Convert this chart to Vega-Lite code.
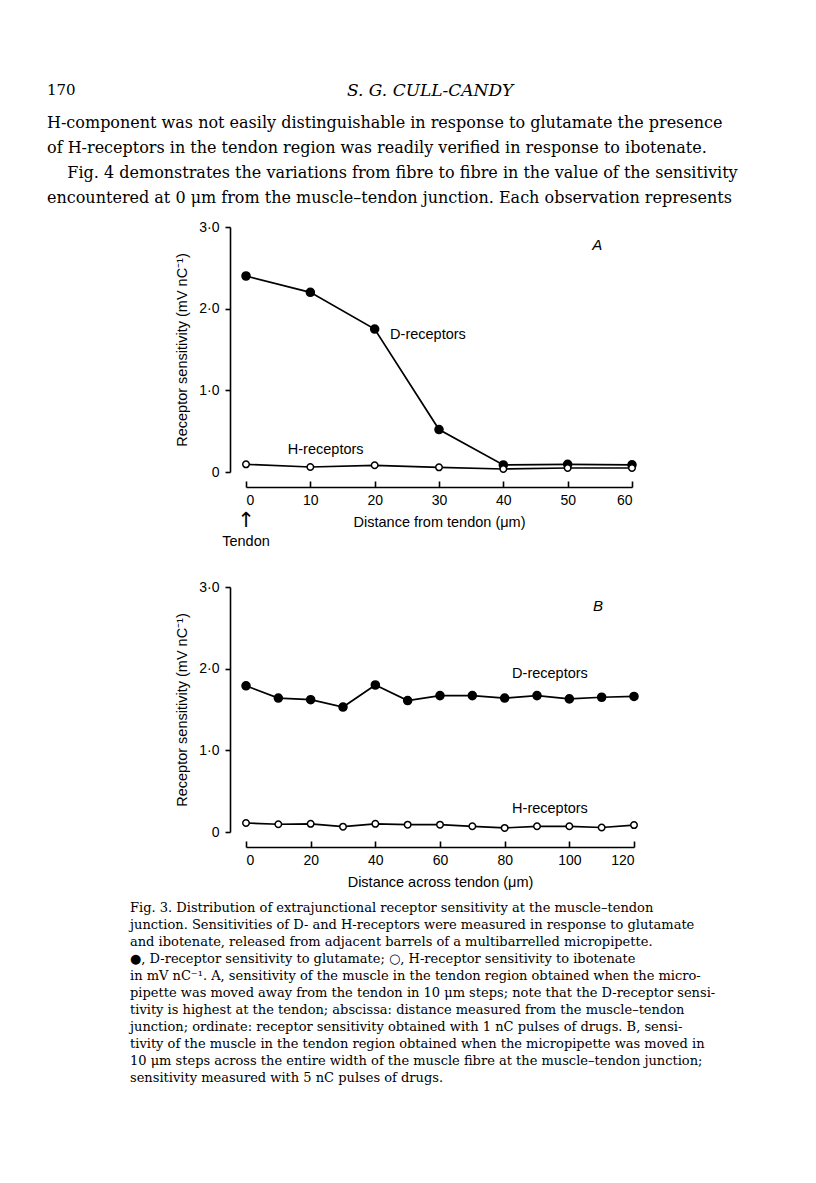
{
  "$schema": "https://vega.github.io/schema/vega-lite/v6.json",
  "background": "white",
  "padding": {"left": 47, "top": 82, "right": 10, "bottom": 10},
  "title": {"text": "S. G. CULL-CANDY", "font": "DejaVu Serif", "fontSize": 17, "fontStyle": "italic", "fontWeight": "normal", "anchor": "start", "frame": "group", "dx": 101, "offset": -17, "color": "black"},
  "bounds": "flush",
  "spacing": 115,
  "datasets": {
    "a": [
      {"x": 0, "y": 2.4, "series": "D"}, {"x": 10, "y": 2.2, "series": "D"}, {"x": 20, "y": 1.75, "series": "D"},
      {"x": 30, "y": 0.52, "series": "D"}, {"x": 40, "y": 0.086, "series": "D"}, {"x": 50, "y": 0.094, "series": "D"},
      {"x": 60, "y": 0.088, "series": "D"},
      {"x": 0, "y": 0.094, "series": "H"}, {"x": 10, "y": 0.061, "series": "H"}, {"x": 20, "y": 0.082, "series": "H"},
      {"x": 30, "y": 0.057, "series": "H"}, {"x": 40, "y": 0.037, "series": "H"}, {"x": 50, "y": 0.049, "series": "H"},
      {"x": 60, "y": 0.049, "series": "H"}
    ],
    "b": [
      {"x": 0, "y": 1.79, "series": "D"}, {"x": 10, "y": 1.64, "series": "D"}, {"x": 20, "y": 1.62, "series": "D"},
      {"x": 30, "y": 1.53, "series": "D"}, {"x": 40, "y": 1.8, "series": "D"}, {"x": 50, "y": 1.61, "series": "D"},
      {"x": 60, "y": 1.67, "series": "D"}, {"x": 70, "y": 1.67, "series": "D"}, {"x": 80, "y": 1.64, "series": "D"},
      {"x": 90, "y": 1.67, "series": "D"}, {"x": 100, "y": 1.63, "series": "D"}, {"x": 110, "y": 1.65, "series": "D"},
      {"x": 120, "y": 1.66, "series": "D"},
      {"x": 0, "y": 0.11, "series": "H"}, {"x": 10, "y": 0.095, "series": "H"}, {"x": 20, "y": 0.1, "series": "H"},
      {"x": 30, "y": 0.065, "series": "H"}, {"x": 40, "y": 0.1, "series": "H"}, {"x": 50, "y": 0.09, "series": "H"},
      {"x": 60, "y": 0.09, "series": "H"}, {"x": 70, "y": 0.07, "series": "H"}, {"x": 80, "y": 0.05, "series": "H"},
      {"x": 90, "y": 0.07, "series": "H"}, {"x": 100, "y": 0.07, "series": "H"}, {"x": 110, "y": 0.055, "series": "H"},
      {"x": 120, "y": 0.085, "series": "H"}
    ],
    "labA": [{"x": 22.4, "y": 1.68, "text": "D-receptors"}, {"x": 6.5, "y": 0.27, "text": "H-receptors"}],
    "labB": [{"x": 82.3, "y": 1.93, "text": "D-receptors"}, {"x": 82.3, "y": 0.28, "text": "H-receptors"}],
    "letA": [{"x": 54.6, "y": 2.78, "text": "A"}],
    "letB": [{"x": 108.9, "y": 2.77, "text": "B"}],
    "tendon": [{"x": 0, "y": -0.86, "text": "Tendon"}],
    "arrow": [{"x": 0, "y": -0.6, "text": "↑"}]
  },
  "vconcat": [
    {
      "width": 386,
      "height": 245,
      "title": {
        "text": "170",
        "subtitle": [
          "H-component was not easily distinguishable in response to glutamate the presence",
          "of H-receptors in the tendon region was readily verified in response to ibotenate.",
          "\u200b\u00a0\u00a0\u00a0\u00a0Fig. 4 demonstrates the variations from fibre to fibre in the value of the sensitivity",
          "encountered at 0 μm from the muscle–tendon junction. Each observation represents"
        ],
        "anchor": "start", "frame": "group", "dx": -199,
        "font": "DejaVu Serif", "fontSize": 15, "fontWeight": "normal", "color": "black",
        "subtitleFont": "DejaVu Serif", "subtitleFontSize": 16, "subtitleColor": "black",
        "subtitleLineHeight": 25, "subtitlePadding": 17, "offset": 14
      },
      "layer": [
        {
          "data": {"name": "a"},
          "mark": {"type": "line", "color": "black", "strokeWidth": 1.7},
          "encoding": {
            "x": {"field": "x", "type": "quantitative", "scale": {"domain": [0, 60], "nice": false},
              "axis": {"values": [0, 10, 20, 30, 40, 50, 60], "title": "Distance from tendon (μm)", "offset": 15, "tickSize": -6, "labelPadding": 12, "titlePadding": 8}},
            "y": {"field": "y", "type": "quantitative", "scale": {"domain": [0, 3], "nice": false, "zero": false},
              "axis": {"values": [0, 1, 2, 3], "labelExpr": "datum.value == 0 ? '0' : replace(format(datum.value, '.1f'), '.', '·')", "offset": 16, "tickSize": 5, "labelPadding": 6, "title": "Receptor sensitivity (mV nC⁻¹)", "titlePadding": 9}},
            "detail": {"field": "series"}
          }
        },
        {
          "data": {"name": "a"},
          "mark": {"type": "circle", "stroke": "black", "strokeWidth": 1.5, "opacity": 1},
          "encoding": {
            "x": {"field": "x", "type": "quantitative"},
            "y": {"field": "y", "type": "quantitative"},
            "fill": {"field": "series", "type": "nominal", "scale": {"domain": ["D", "H"], "range": ["black", "white"]}, "legend": null},
            "size": {"field": "series", "type": "nominal", "scale": {"domain": ["D", "H"], "range": [65, 42]}, "legend": null}
          }
        },
        {
          "data": {"name": "labA"},
          "mark": {"type": "text", "align": "left", "baseline": "middle", "font": "Liberation Sans", "fontSize": 14.5, "color": "black"},
          "encoding": {"x": {"field": "x", "type": "quantitative"}, "y": {"field": "y", "type": "quantitative"}, "text": {"field": "text"}}
        },
        {
          "data": {"name": "letA"},
          "mark": {"type": "text", "align": "center", "baseline": "middle", "font": "Liberation Sans", "fontSize": 15, "fontStyle": "italic", "color": "black"},
          "encoding": {"x": {"field": "x", "type": "quantitative"}, "y": {"field": "y", "type": "quantitative"}, "text": {"field": "text"}}
        },
        {
          "data": {"name": "tendon"},
          "mark": {"type": "text", "align": "center", "baseline": "middle", "font": "Liberation Sans", "fontSize": 14.5, "color": "black"},
          "encoding": {"x": {"field": "x", "type": "quantitative"}, "y": {"field": "y", "type": "quantitative"}, "text": {"field": "text"}}
        },
        {
          "data": {"name": "arrow"},
          "mark": {"type": "text", "align": "center", "baseline": "middle", "font": "DejaVu Sans", "fontSize": 21, "color": "black"},
          "encoding": {"x": {"field": "x", "type": "quantitative"}, "y": {"field": "y", "type": "quantitative"}, "text": {"field": "text"}}
        }
      ]
    },
    {
      "width": 388,
      "height": 245,
      "title": {
        "text": [
          "Fig. 3. Distribution of extrajunctional receptor sensitivity at the muscle–tendon",
          "junction. Sensitivities of D- and H-receptors were measured in response to glutamate",
          "and ibotenate, released from adjacent barrels of a multibarrelled micropipette.",
          "●, D-receptor sensitivity to glutamate; ○, H-receptor sensitivity to ibotenate",
          "in mV nC⁻¹. A, sensitivity of the muscle in the tendon region obtained when the micro-",
          "pipette was moved away from the tendon in 10 μm steps; note that the D-receptor sensi-",
          "tivity is highest at the tendon; abscissa: distance measured from the muscle–tendon",
          "junction; ordinate: receptor sensitivity obtained with 1 nC pulses of drugs. B, sensi-",
          "tivity of the muscle in the tendon region obtained when the micropipette was moved in",
          "10 μm steps across the entire width of the muscle fibre at the muscle–tendon junction;",
          "sensitivity measured with 5 nC pulses of drugs."
        ],
        "orient": "bottom", "anchor": "start", "frame": "group", "dx": -116,
        "font": "DejaVu Serif", "fontSize": 13, "fontWeight": "normal", "color": "black",
        "lineHeight": 17, "offset": 13
      },
      "layer": [
        {
          "data": {"name": "b"},
          "mark": {"type": "line", "color": "black", "strokeWidth": 1.7},
          "encoding": {
            "x": {"field": "x", "type": "quantitative", "scale": {"domain": [0, 120], "nice": false},
              "axis": {"values": [0, 10, 20, 30, 40, 50, 60, 70, 80, 90, 100, 110, 120], "labelExpr": "datum.value % 20 == 0 ? datum.label : ''", "title": "Distance across tendon (μm)", "offset": 15, "tickSize": -6, "labelPadding": 12, "titlePadding": 8}},
            "y": {"field": "y", "type": "quantitative", "scale": {"domain": [0, 3], "nice": false, "zero": false},
              "axis": {"values": [0, 1, 2, 3], "labelExpr": "datum.value == 0 ? '0' : replace(format(datum.value, '.1f'), '.', '·')", "offset": 16, "tickSize": 5, "labelPadding": 6, "title": "Receptor sensitivity (mV nC⁻¹)", "titlePadding": 9}},
            "detail": {"field": "series"}
          }
        },
        {
          "data": {"name": "b"},
          "mark": {"type": "circle", "stroke": "black", "strokeWidth": 1.5, "opacity": 1},
          "encoding": {
            "x": {"field": "x", "type": "quantitative"},
            "y": {"field": "y", "type": "quantitative"},
            "fill": {"field": "series", "type": "nominal", "scale": {"domain": ["D", "H"], "range": ["black", "white"]}, "legend": null},
            "size": {"field": "series", "type": "nominal", "scale": {"domain": ["D", "H"], "range": [65, 42]}, "legend": null}
          }
        },
        {
          "data": {"name": "labB"},
          "mark": {"type": "text", "align": "left", "baseline": "middle", "font": "Liberation Sans", "fontSize": 14.5, "color": "black"},
          "encoding": {"x": {"field": "x", "type": "quantitative"}, "y": {"field": "y", "type": "quantitative"}, "text": {"field": "text"}}
        },
        {
          "data": {"name": "letB"},
          "mark": {"type": "text", "align": "center", "baseline": "middle", "font": "Liberation Sans", "fontSize": 15, "fontStyle": "italic", "color": "black"},
          "encoding": {"x": {"field": "x", "type": "quantitative"}, "y": {"field": "y", "type": "quantitative"}, "text": {"field": "text"}}
        }
      ]
    }
  ],
  "config": {
    "view": {"stroke": null},
    "axis": {"domainColor": "black", "tickColor": "black", "labelColor": "black", "titleColor": "black", "labelFont": "Liberation Sans", "titleFont": "Liberation Sans", "labelFontSize": 14, "titleFontSize": 14.5, "titleFontWeight": "normal", "grid": false, "domainWidth": 1.6, "tickWidth": 1.6}
  }
}
